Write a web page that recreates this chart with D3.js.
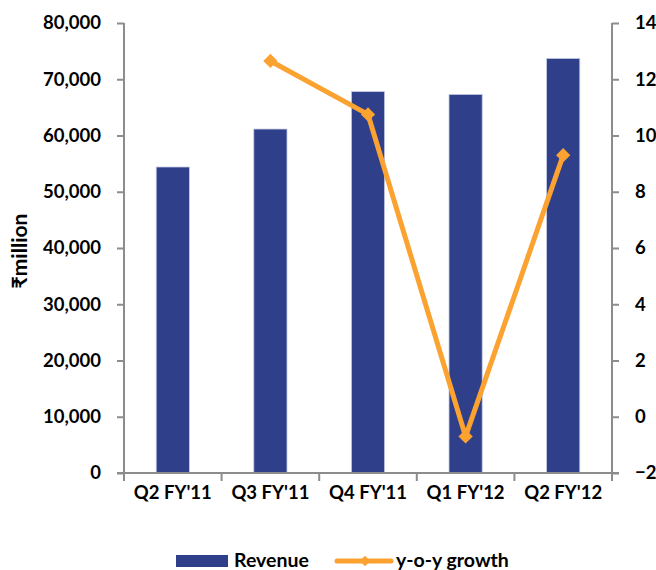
<!DOCTYPE html>
<html>
<head>
<meta charset="utf-8">
<script src="https://cdn.jsdelivr.net/npm/d3@7"></script>
<style>
  body { margin: 0; background: #fff; }
  text { font-family: Lato, "Open Sans", sans-serif; font-weight: bold; fill: #000; }
</style>
</head>
<body>
<svg id="chart" width="656" height="570"></svg>
<script>
// data
var quarters = ["Q2 FY'11", "Q3 FY'11", "Q4 FY'11", "Q1 FY'12", "Q2 FY'12"];
var revenue = [54400, 61150, 67800, 67300, 73700]; // rupee million
var growth = [null, 12.65, 10.75, -0.7, 9.3]; // y-o-y %
var leftTicks = [0, 10000, 20000, 30000, 40000, 50000, 60000, 70000, 80000];
var rightTicks = [-2, 0, 2, 4, 6, 8, 10, 12, 14];

var BAR_COLOR = "#303f89";
var LINE_COLOR = "#fba230";
var AXIS_COLOR = "#8c8c8c";

(function() {
  var svg = d3.select("#chart");
  var left = 124, right = 612, plotTop = 23, bottom = 473;

  var xc = d3.scaleBand().domain(quarters).range([left, right]); // category slots
  var y = d3.scaleLinear().domain([0, 80000]).range([bottom, plotTop]);
  var y2 = d3.scaleLinear().domain([-2, 14]).range([bottom, plotTop]);
  var barW = xc.bandwidth() * 0.34;

  function cx(q) { return xc(q) + xc.bandwidth() / 2; }

  // bars
  svg.append("g").selectAll("rect")
    .data(revenue)
    .enter().append("rect")
    .attr("x", function(d, i) { return cx(quarters[i]) - barW / 2; })
    .attr("width", barW)
    .attr("y", function(d) { return y(d); })
    .attr("height", function(d) { return bottom - y(d); })
    .attr("fill", BAR_COLOR)
    .attr("stroke", "#c3c9e3")
    .attr("stroke-width", 0.8);

  // left axis
  var yAxis = d3.axisLeft(y).tickValues(leftTicks).tickSize(7).tickPadding(16).tickFormat(d3.format(","));
  var gy = svg.append("g").attr("transform", "translate(" + left + ",0)").call(yAxis);

  // right axis
  var y2Axis = d3.axisRight(y2).tickValues(rightTicks).tickSize(7).tickPadding(16).tickFormat(d3.format("d"));
  var gy2 = svg.append("g").attr("transform", "translate(" + right + ",0)").call(y2Axis);

  // x axis
  var xAxis = d3.axisBottom(xc).tickSize(0).tickPadding(13);
  var gx = svg.append("g").attr("transform", "translate(0," + bottom + ")").call(xAxis);
  gx.selectAll(".sep")
    .data(d3.range(quarters.length + 1))
    .enter().append("line")
    .attr("class", "sep")
    .attr("x1", function(i) { return left + i * xc.step(); })
    .attr("x2", function(i) { return left + i * xc.step(); })
    .attr("y1", 0).attr("y2", 8)
    .attr("stroke", AXIS_COLOR).attr("stroke-width", 2);

  [gy, gy2, gx].forEach(function(g) {
    g.select(".domain").attr("stroke", AXIS_COLOR).attr("stroke-width", 2);
    g.selectAll(".tick line").attr("stroke", AXIS_COLOR).attr("stroke-width", 2);
    g.selectAll(".tick text").style("font-size", "18.5px").style("font-family", "Lato, sans-serif").style("font-weight", "bold").attr("fill", "#000");
  });
  gy.select(".domain").attr("d", "M0," + plotTop + "V" + bottom);
  gy2.select(".domain").attr("d", "M0," + plotTop + "V" + bottom);
  gy2.selectAll(".tick text").attr("text-anchor", "start");
  gx.select(".domain").attr("d", "M" + (left - 7) + ",0H" + (right + 7));

  // growth line
  var pts = growth.map(function(d, i) { return { q: quarters[i], v: d }; })
    .filter(function(p) { return p.v !== null; });
  var line = d3.line()
    .x(function(p) { return cx(p.q); })
    .y(function(p) { return y2(p.v); });

  svg.append("path")
    .datum(pts)
    .attr("d", line)
    .attr("fill", "none")
    .attr("stroke", LINE_COLOR)
    .attr("stroke-width", 5)
    .attr("stroke-linejoin", "round");

  svg.append("g").selectAll("path")
    .data(pts)
    .enter().append("path")
    .attr("d", d3.symbol().type(d3.symbolDiamond2).size(130))
    .attr("transform", function(p) { return "translate(" + cx(p.q) + "," + y2(p.v) + ")"; })
    .attr("fill", LINE_COLOR);

  // y title
  svg.append("text")
    .attr("transform", "translate(27,251) rotate(-90)")
    .attr("text-anchor", "middle")
    .style("font-size", "21px")
    .style("font-family", "Lato, 'DejaVu Sans', 'Noto Sans', sans-serif")
    .text("\u20B9million");

  // legend
  var lg = svg.append("g");
  lg.append("rect").attr("x", 176).attr("y", 555).attr("width", 52).attr("height", 12).attr("fill", BAR_COLOR);
  lg.append("text").attr("x", 234).attr("y", 567).style("font-size", "19.5px").text("Revenue");
  lg.append("line").attr("x1", 337).attr("x2", 391).attr("y1", 561).attr("y2", 561)
    .attr("stroke", LINE_COLOR).attr("stroke-width", 5).attr("stroke-linecap", "round");
  lg.append("path").attr("d", d3.symbol().type(d3.symbolDiamond2).size(70))
    .attr("transform", "translate(365,561)").attr("fill", LINE_COLOR);
  lg.append("text").attr("x", 396).attr("y", 567).style("font-size", "19.5px").text("y-o-y growth");
})();
</script>
</body>
</html>
